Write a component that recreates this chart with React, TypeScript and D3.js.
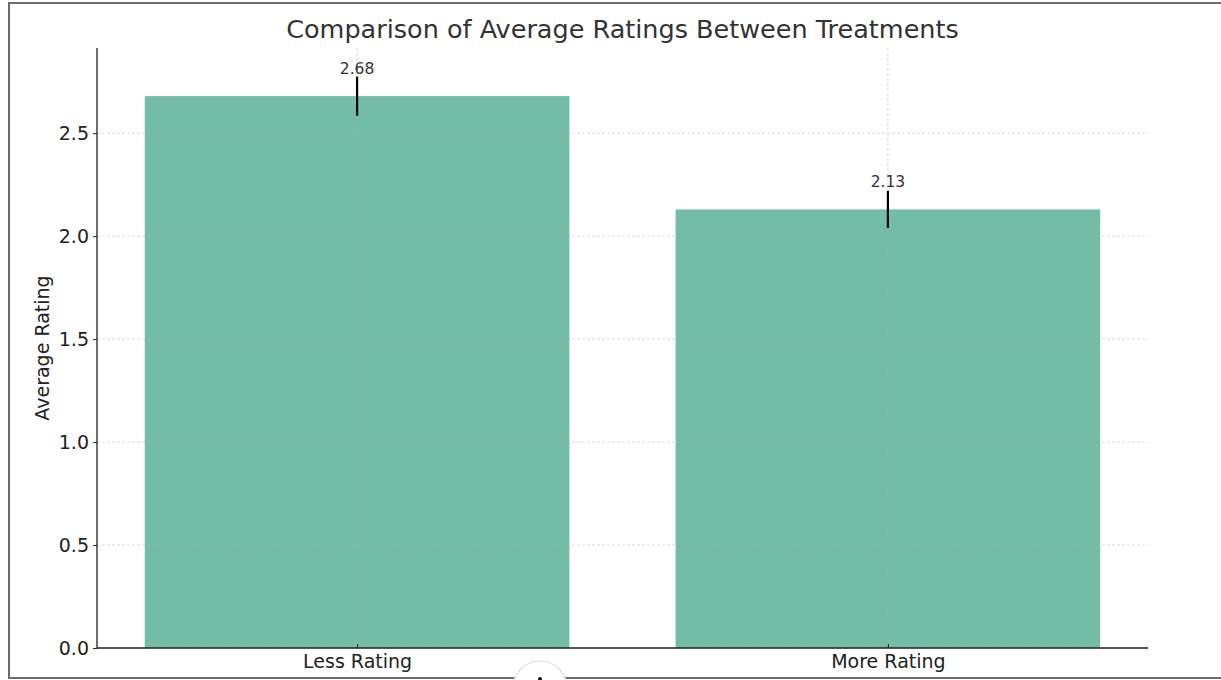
import { useEffect, useRef } from "react";
import * as d3 from "d3";

// chart data
const categories = ["Less Rating", "More Rating"];
const averages = [2.68, 2.13];
const errors = [0.095, 0.09];
const yTicks = [0, 0.5, 1.0, 1.5, 2.0, 2.5];

const W = 1221;
const H = 680;

export default function App() {
  const ref = useRef<SVGSVGElement>(null);

  useEffect(() => {
    const svg = d3.select(ref.current);
    svg.selectAll("*").remove();

    const font = "'DejaVu Sans', sans-serif";
    const margin = { top: 48, right: 73, bottom: 32, left: 97 };
    const innerW = W - margin.left - margin.right;
    const innerH = H - margin.top - margin.bottom;

    // image frame
    svg
      .append("path")
      .attr("d", `M${W},3 H9 V678 H${W}`)
      .attr("fill", "none")
      .attr("stroke", "#6b6b6b")
      .attr("stroke-width", 2);

    const g = svg
      .append("g")
      .attr("transform", `translate(${margin.left},${margin.top})`);

    // bars sit at 0,1 with width 0.8, 5% padding like matplotlib
    const x = d3.scaleLinear().domain([-0.49, 1.49]).range([0, innerW]);
    const yMax = d3.max(averages.map((v, i) => v + errors[i])) as number;
    const y = d3
      .scaleLinear()
      .domain([0, yMax * 1.05])
      .range([innerH, 0]);
    const barW = x(0.8) - x(0);

    g.selectAll("rect.bar")
      .data(averages)
      .join("rect")
      .attr("class", "bar")
      .attr("x", (d, i) => x(i) - barW / 2)
      .attr("y", (d) => y(d))
      .attr("width", barW)
      .attr("height", (d) => innerH - y(d))
      .attr("fill", "#73bca6");

    // grid
    g.selectAll("line.hgrid")
      .data(yTicks)
      .join("line")
      .attr("class", "hgrid")
      .attr("x1", 0)
      .attr("x2", innerW)
      .attr("y1", (d) => y(d))
      .attr("y2", (d) => y(d))
      .attr("stroke", "#b0b0b0")
      .attr("stroke-opacity", 0.6)
      .attr("stroke-dasharray", "3,2")
      .attr("stroke-width", 0.8);

    g.selectAll("line.vgrid")
      .data(categories)
      .join("line")
      .attr("class", "vgrid")
      .attr("x1", (d, i) => x(i))
      .attr("x2", (d, i) => x(i))
      .attr("y1", 0)
      .attr("y2", innerH)
      .attr("stroke", "#b0b0b0")
      .attr("stroke-opacity", 0.6)
      .attr("stroke-dasharray", "3,2")
      .attr("stroke-width", 0.8);

    // error bars
    g.selectAll("line.err")
      .data(averages)
      .join("line")
      .attr("class", "err")
      .attr("x1", (d, i) => x(i))
      .attr("x2", (d, i) => x(i))
      .attr("y1", (d, i) => y(d - errors[i]))
      .attr("y2", (d, i) => y(d + errors[i]))
      .attr("stroke", "#000")
      .attr("stroke-width", 2.2);

    // value labels
    g.selectAll("text.val")
      .data(averages)
      .join("text")
      .attr("class", "val")
      .attr("x", (d, i) => x(i))
      .attr("y", (d) => y(d) - 22)
      .attr("text-anchor", "middle")
      .attr("font-family", font)
      .attr("font-size", 15.5)
      .attr("fill", "#333")
      .text((d) => d.toFixed(2));

    // y axis
    const yAxis = g
      .append("g")
      .call(
        d3
          .axisLeft(y)
          .tickValues(yTicks)
          .tickFormat(d3.format(".1f"))
          .tickSize(4)
          .tickPadding(4)
      );
    yAxis.select(".domain").attr("stroke", "#222").attr("stroke-width", 1.3).attr("d", `M0,0V${innerH}`);
    yAxis.selectAll(".tick line").attr("stroke", "#222").attr("stroke-width", 1);
    yAxis
      .selectAll(".tick text")
      .attr("font-family", font)
      .attr("font-size", 19)
      .attr("fill", "#222");

    // x axis with ticks pointing inward
    const xAxis = g
      .append("g")
      .attr("transform", `translate(0,${innerH})`)
      .call(
        d3
          .axisBottom(x)
          .tickValues([0, 1])
          .tickFormat((d, i) => categories[i])
          .tickSize(-4)
          .tickPadding(7)
      );
    xAxis.select(".domain").attr("stroke", "#222").attr("stroke-width", 1.3).attr("d", `M0,0H${innerW}`);
    xAxis.selectAll(".tick line").attr("stroke", "#222").attr("stroke-width", 1);
    xAxis
      .selectAll(".tick text")
      .attr("font-family", font)
      .attr("font-size", 19)
      .attr("fill", "#222")
      .attr("dy", "0.71em");

    // axis title
    svg
      .append("text")
      .attr("transform", `translate(49,${margin.top + innerH / 2}) rotate(-90)`)
      .attr("text-anchor", "middle")
      .attr("font-family", font)
      .attr("font-size", 19)
      .attr("fill", "#222")
      .text("Average Rating");

    // chart title
    svg
      .append("text")
      .attr("x", margin.left + innerW / 2)
      .attr("y", 38)
      .attr("text-anchor", "middle")
      .attr("font-family", font)
      .attr("font-size", 25.5)
      .attr("fill", "#333")
      .text("Comparison of Average Ratings Between Treatments");

    // small scroll button overlay at bottom of the screenshot
    svg
      .append("circle")
      .attr("cx", 540)
      .attr("cy", 688)
      .attr("r", 27)
      .attr("fill", "#fff")
      .attr("stroke", "#ddd")
      .attr("stroke-width", 1.2);
    svg
      .append("circle")
      .attr("cx", 540)
      .attr("cy", 679)
      .attr("r", 2)
      .attr("fill", "#111");
  }, []);

  return (
    <svg
      ref={ref}
      width={W}
      height={H}
      style={{ position: "absolute", left: 0, top: 0, background: "#fff" }}
    />
  );
}
